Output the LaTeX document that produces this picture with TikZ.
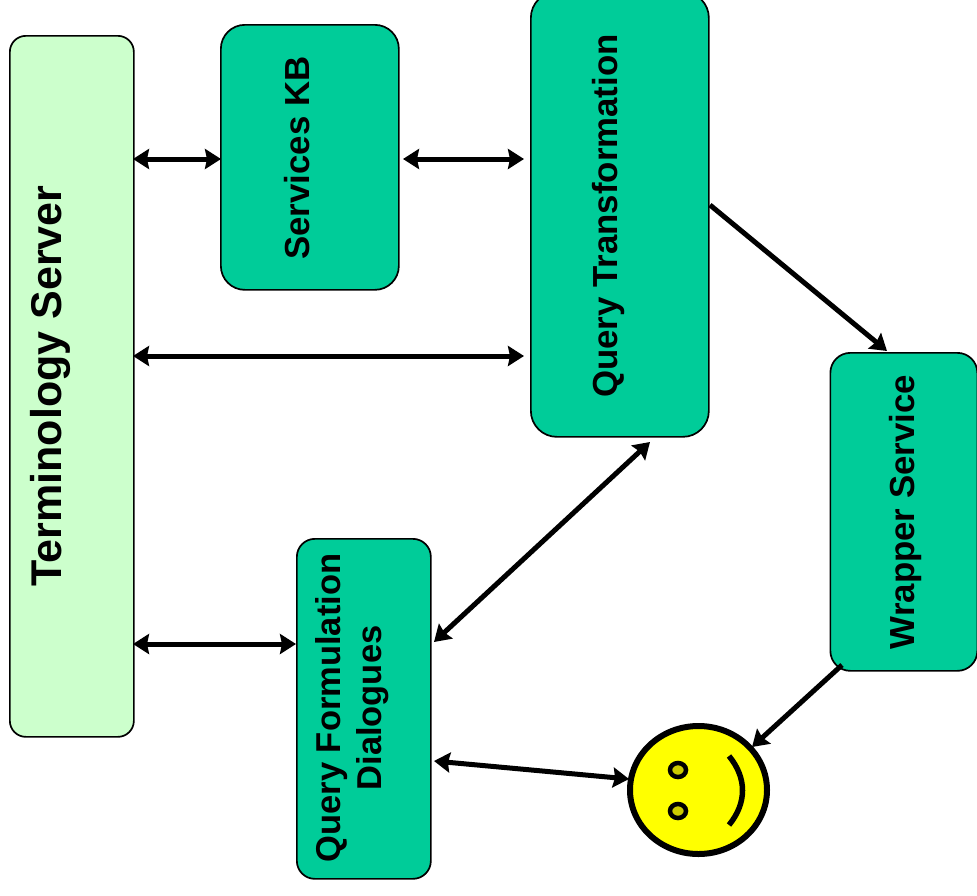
\documentclass[tikz,border=0pt]{standalone}
\usepackage{fontspec}
\setmainfont{Liberation Sans}
\usetikzlibrary{arrows.meta,shapes.geometric}
\begin{document}
\begin{tikzpicture}[x=1pt,y=-1pt,
 box/.style={draw=black,line width=1.7pt,fill=boxgreen,inner sep=0pt,anchor=north west},
 lab/.style={font=\bfseries\fontsize{34.8}{38}\selectfont,rotate=90,align=center,inner sep=0pt},
 eye/.style={draw=black,line width=4.5pt,fill=eyeyellow,ellipse,minimum width=16pt,minimum height=14pt,inner sep=0pt},
 link/.style={line width=5pt,{Stealth[length=16pt,width=20pt,inset=2pt]}-{Stealth[length=16pt,width=20pt,inset=2pt]}},
 onelink/.style={line width=5pt,-{Stealth[length=16pt,width=20pt,inset=2pt]}}]
\definecolor{boxgreen}{HTML}{00CC99}
\definecolor{termgreen}{HTML}{CCFFCC}
\definecolor{faceyellow}{HTML}{FFFF00}
\definecolor{eyeyellow}{HTML}{CCCC00}
\useasboundingbox (0,0) rectangle (977,895);
\node[box,fill=termgreen,minimum width=124pt,minimum height=701pt,rounded corners=16pt] (ts) at (9,35) {};
\node[box,minimum width=178pt,minimum height=265pt,rounded corners=24pt] (kb) at (220,24) {};
\node[box,minimum width=178pt,minimum height=445pt,rounded corners=26pt] (qt) at (530,-9) {};
\node[box,minimum width=147pt,minimum height=318pt,rounded corners=20pt] (ws) at (829.5,352) {};
\node[box,minimum width=134pt,minimum height=340pt,rounded corners=18pt] (qf) at (296,538) {};
\node[draw=black,line width=6pt,fill=faceyellow,ellipse,minimum width=137pt,minimum height=128pt,inner sep=0pt] (sm) at (698.5,790) {};
\node[lab,font=\bfseries\fontsize{43}{46}\selectfont] (tst) at (50,386) {Terminology Server};
\node[lab] (kbt) at (297,158) {Services KB};
\node[lab] (qtt) at (608,216) {Query Transformation};
\node[lab] (wst) at (905.5,512) {Wrapper Service};
\node[lab,font=\bfseries\fontsize{34.5}{41}\selectfont] (qft) at (352.5,708) {Query Formulation\\Dialogues};
\node[eye] (e1) at (678,770) {};
\node[eye] (e2) at (678,811) {};
\coordinate (s1) at (729,756); \coordinate (s2) at (729,825);
\draw[line width=5.5pt] (s1) .. controls (747,778) and (747,803) .. (s2);
\coordinate (a1) at (133,159); \coordinate (a2) at (221,159);
\coordinate (b1) at (403,159); \coordinate (b2) at (524,159);
\coordinate (c1) at (133,356); \coordinate (c2) at (524,356);
\coordinate (d1) at (133,644); \coordinate (d2) at (296,644);
\coordinate (e3) at (710,205); \coordinate (e4) at (887,351);
\coordinate (f1) at (650,442); \coordinate (f2) at (434,642);
\coordinate (g1) at (842,665); \coordinate (g2) at (752,747);
\coordinate (h1) at (434,761); \coordinate (h2) at (629,779);
\draw[link] (a1) -- (a2);
\draw[link] (b1) -- (b2);
\draw[link] (c1) -- (c2);
\draw[link] (d1) -- (d2);
\draw[onelink] (e3) -- (e4);
\draw[link] (f1) -- (f2);
\draw[onelink] (g1) -- (g2);
\draw[link] (h1) -- (h2);
\end{tikzpicture}
\end{document}
